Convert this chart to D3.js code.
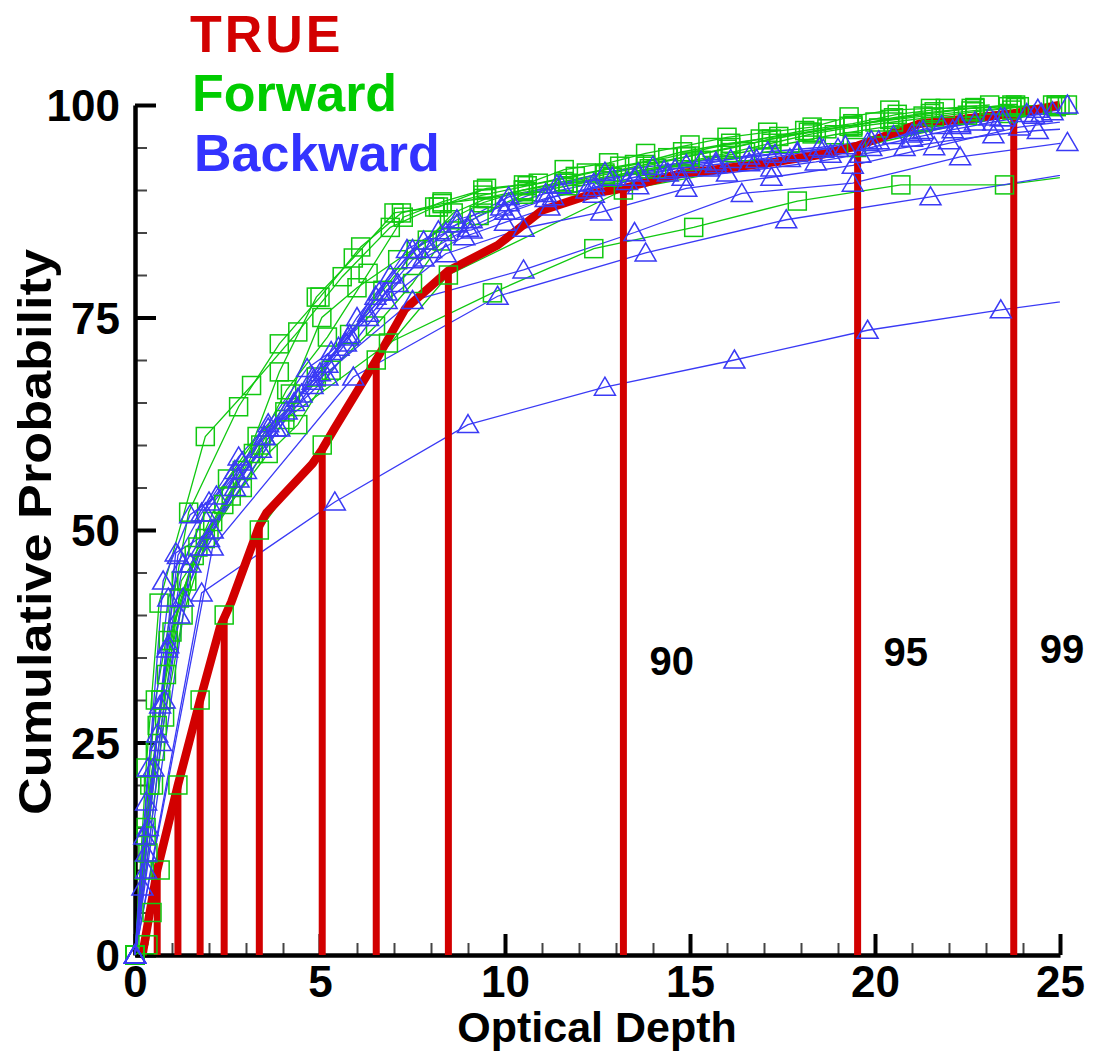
<!DOCTYPE html>
<html><head><meta charset="utf-8">
<script src="https://cdn.jsdelivr.net/npm/d3@7"></script>
<style>body{margin:0;background:#fff}svg{display:block}</style>
</head><body>
<svg id="chart" width="1093" height="1056"></svg>
<script>
// ---------- data ----------
const xTickValues = [0, 5, 10, 15, 20, 25];
const yTickValues = [0, 25, 50, 75, 100];
const xMinorTicks = [1,2,3,4,6,7,8,9,11,12,13,14,16,17,18,19,21,22,23,24];
const yMinorTicks = [5,10,15,20,30,35,40,45,55,60,65,70,80,85,90,95];
const legendLabels = ["TRUE", "Forward", "Backward"];
const xTitle = "Optical Depth";
const yTitle = "Cumulative Probability";

// TRUE cumulative distribution [optical depth, cumulative %]
const trueCurve = [[0.2,0],[0.6,10],[1.16,20],[1.76,30],[2.3,38.6],[2.6,41.5],[3.36,50.5],[3.55,52],
  [4.8,57.8],[5.06,59.5],[5.4,62],[6.52,70],[7.3,76],[8.47,80.5],[9.8,83.5],[11.0,87.6],[12.4,89.6],
  [13.2,90.2],[14.8,92],[15.5,92.3],[17.3,93.3],[18.6,94.2],[19.53,95.2],[21.2,97.8],[23.75,99],[25,100]];
// quantile drop lines of the TRUE curve
const quantileLevels = [10, 20, 30, 40, 50, 60, 70, 80, 90, 95, 99];
const quantileDepths = [0.6, 1.16, 1.76, 2.41, 3.36, 5.06, 6.52, 8.47, 13.2, 19.53, 23.75];
const labeledQuantiles = [90, 95, 99];

// Forward retrievals
const forwardRuns = [
  [[0,0],[0.35,1.2],[0.46,5],[0.68,10],[1.16,20],[1.76,30],[2.41,40],[3.36,50],[5.06,60],[6.52,70],[8.47,80],[13.2,90],[19.5,95],[23.6,99],[25,100]],
  [[0,0],[0.5,20],[1.25,44],[4.05,63],[6.85,72],[9.66,77.9],[12.4,83.1],[15.1,85.6],[17.9,88.7],[20.7,90.6],[23.5,90.6],[26.3,92.2]],
  [[0,0],[0.3,22],[0.65,41.4],[1.9,61],[3.15,67],[4.4,73.3],[5.6,79.8],[6.9,85.6],[8.1,88],[9.4,89.4],[10.6,90.5],[11.9,91.6],[13.1,92.8],[14.4,93.8],[15.6,95],[16.9,96],[18.1,97],[19.4,97.8],[20.6,98.9],[21.9,99.6],[23.1,100]],
  [[0,0],[0.55,30],[1.45,52.1],[2.8,64.5],[3.9,71.9],[5.0,77.4],[6.1,83.3],[7.2,87.3],[8.3,88.4],[9.4,89],[10.5,90],[11.6,90.8],[12.7,91.8],[13.8,92.8],[14.9,93.9],[16.0,94.8],[17.1,95.9],[18.2,96.8],[19.3,97.5],[20.4,98.3],[21.5,99],[22.6,99.6],[23.7,100]],
  [[0,0],[0.3,15],[0.6,27],[1.0,38],[1.7,48],[2.5,56],[3.3,61],[4.05,63.9],[4.9,68],[5.8,73],[6.7,78.2],[7.6,83],[8.5,86.5],[9.4,88.5],[10.5,90],[11.6,91],[12.7,92],[13.8,93],[15.0,94],[16.1,95],[17.2,96],[18.3,96.8],[19.4,97.6],[20.5,98.5],[21.6,99.2],[22.7,99.7],[23.8,100]],
  [[0,0],[0.25,10],[0.55,24],[0.9,37],[1.6,47],[2.4,53],[3.2,59],[4.1,66.5],[5.2,72.7],[6.3,80.2],[7.25,86.8],[8.3,88.6],[9.4,90],[10.5,90.6],[11.6,92.4],[12.8,93.2],[13.8,94.3],[15.0,95.3],[16.0,96.2],[17.1,96.8],[18.3,97.4],[19.3,98.6],[20.4,99.4],[21.5,99.6],[22.7,99.6],[23.6,99.8],[24.8,100]],
  [[0,0],[0.35,12],[0.8,28],[1.3,40],[2.0,50],[2.9,55],[3.6,59],[4.4,62.4],[5.3,68.8],[6.5,74],[7.5,79],[8.3,84],[9.3,87],[10.5,89.5],[11.7,90.5],[12.9,91.5],[14.1,92.5],[15.3,93.5],[16.5,94.5],[17.7,95.5],[18.9,96.5],[20.1,97.3],[21.3,98],[22.5,98.8],[23.7,99.4],[24.9,99.8]],
  [[0,0],[0.4,20],[0.85,33],[1.4,44],[2.1,51],[2.9,57],[3.9,68.6],[4.9,77.4],[5.9,82],[7.0,87.3],[8.2,88],[9.5,90.2],[10.9,90.8],[12.2,92],[13.5,93],[14.8,94.5],[16.1,95.5],[17.4,96.3],[18.7,97.2],[20.0,98],[21.3,98.7],[22.6,99.3],[23.9,99.8],[25.2,100]],
  [[0,0],[0.3,14],[0.7,30],[1.2,42],[1.9,49],[2.6,54],[3.4,60],[4.2,66],[5.05,75],[6.0,78.5],[7.1,81.8],[7.9,84.1],[8.6,87.3],[9.5,89],[10.6,89.8],[11.7,90.8],[12.8,91.6],[13.9,92.5],[15.0,93.4],[16.1,94.4],[17.2,95.5],[18.3,96.6],[19.4,97.4],[20.5,98],[21.6,98.6],[22.7,99.2],[23.8,99.7],[24.9,100]]
];

// Backward retrievals
const backwardRuns = [
  [[0,0],[1.8,42.6],[5.4,53.3],[9.0,62.4],[12.7,66.8],[16.2,70],[19.8,73.5],[23.4,75.9],[27,78]],
  [[0,0],[2.1,48],[5.9,68],[9.8,77.5],[13.8,82.6],[17.6,86.5],[21.5,89.2],[25.4,92]],
  [[0,0],[1.5,46],[4.5,66],[7.5,77],[10.5,80.6],[13.5,85],[16.4,89.6],[19.4,90.8],[22.3,93.9],[25.2,95.6]],
  [[0,0],[0.35,22],[0.9,42],[1.9,52],[3.5,61],[5.2,68],[6.8,77],[8.4,82.5],[10.5,85.5],[12.6,87.4],[14.9,90.2],[17.2,91.5],[19.4,92.9],[21.6,95.1],[23.9,97.4],[26,98.5]],
  [[0,0],[0.25,14],[0.6,26],[0.87,36],[1.16,47],[1.8,52],[2.7,57],[3.5,61],[4.4,65.5],[5.2,69.5],[6.0,75],[6.9,80],[7.8,84],[8.7,86.5],[9.9,88],[11.1,89.6],[12.4,90.8],[13.6,92],[14.9,93],[16.1,93.6],[17.3,94.2],[18.6,94.8],[19.8,95.6],[21.0,96.6],[22.3,97.6],[23.5,98.5],[24.8,99.2]],
  [[0,0],[0.3,18],[0.76,44],[1.49,51.8],[2.2,54],[2.9,58],[3.6,62],[4.3,65],[5.0,68.5],[5.76,72.7],[6.5,77.5],[7.35,83],[8.2,85.2],[9.1,86.5],[10.1,88.5],[11.4,90.6],[12.7,92.1],[14.0,92.8],[15.3,93.4],[16.6,94],[17.9,94.5],[19.2,95.2],[20.5,96.4],[21.8,97.6],[23.1,98.6],[24.4,99.5],[25.2,100]],
  [[0,0],[0.2,8],[0.5,22],[0.9,36.5],[1.3,46],[2.0,53.3],[2.8,58.6],[3.6,62.5],[4.65,69],[5.3,71],[6.3,75.5],[7.5,81.8],[8.7,86],[10.1,89.2],[11.5,90.6],[12.9,91.5],[14.3,92.3],[15.7,93.3],[17.1,94.5],[18.5,95],[19.9,95.8],[21.3,97],[22.7,98],[24.1,99],[25.5,99.6]],
  [[0,0],[0.3,12],[0.68,29.4],[1.1,47.3],[2.1,50],[3.0,57],[3.9,62],[4.8,67],[5.7,72],[6.6,78],[7.5,83],[8.4,85],[9.1,85.3],[10.2,87.5],[11.3,89.2],[12.4,90.3],[13.5,91.5],[14.6,92.5],[15.7,93],[16.8,93.6],[17.9,94.3],[19.0,94.9],[20.1,95.8],[21.2,96.8],[22.3,97.8],[23.4,98.5],[24.5,99]],
  [[0,0],[0.35,15],[0.8,30],[1.3,42],[2.0,49],[2.7,55],[3.4,59.5],[4.1,64],[4.8,67.5],[5.5,71.5],[6.3,75],[7.1,79],[8.0,83],[9.0,85.5],[10.0,87.5],[11.1,89],[12.2,90],[13.3,91],[14.4,92],[15.5,92.6],[16.6,93.2],[17.7,93.7],[18.8,94.2],[19.9,95],[21.0,96.1],[22.1,97.1],[23.2,98],[24.3,98.8],[25.4,99.3]],
  [[0,0],[0.3,10],[0.7,25],[1.2,40],[1.8,48],[2.8,56],[3.8,62],[4.8,68],[5.8,73],[6.8,78],[7.8,82],[8.9,84.5],[10.0,86.2],[11.2,88],[12.4,89.5],[13.6,90.5],[14.8,91.5],[16.0,92],[17.2,92.6],[18.4,93.3],[19.6,94.2],[20.8,95],[22.0,95.8],[23.2,96.5],[24.4,97],[25.6,97.3]]
];

// ---------- styling ----------
const RED = "#d20000", GREEN = "#00cc00", BLUE = "#3333ff";
const LINE_GREEN = "#10c810", LINE_BLUE = "#3a3af5";
const FONT = "'Liberation Sans', Arial, Helvetica, sans-serif";

const svg = d3.select("#chart");
const x = d3.scaleLinear().domain([0, 25]).range([135, 1060]);
const y = d3.scaleLinear().domain([0, 100]).range([955, 105]);

svg.append("defs").append("clipPath").attr("id", "plotClip")
  .append("rect").attr("x", x(0) - 2).attr("y", y(100) - 20)
  .attr("width", x(25) - x(0) + 2).attr("height", y(0) - y(100) + 40);

// ---------- axes ----------
const axisG = svg.append("g");
axisG.append("g").attr("transform", `translate(0,${y(0)})`)
  .call(d3.axisBottom(x).tickValues(xMinorTicks).tickSize(-12).tickFormat("").tickSizeOuter(0))
  .call(g => g.select(".domain").remove())
  .call(g => g.selectAll(".tick line").attr("stroke", "#444").attr("stroke-width", 2));
axisG.append("g").attr("transform", `translate(${x(0)},0)`)
  .call(d3.axisLeft(y).tickValues(yMinorTicks).tickSize(-12).tickFormat("").tickSizeOuter(0))
  .call(g => g.select(".domain").remove())
  .call(g => g.selectAll(".tick line").attr("stroke", "#444").attr("stroke-width", 2));
const xAxis = axisG.append("g").attr("transform", `translate(0,${y(0)})`)
  .call(d3.axisBottom(x).tickValues(xTickValues).tickSize(-21).tickSizeOuter(0).tickPadding(0).tickFormat(d3.format("d")));
xAxis.select(".domain").attr("stroke", "#000").attr("stroke-width", 4.5);
xAxis.selectAll(".tick line").attr("stroke", "#000").attr("stroke-width", 4);
xAxis.selectAll(".tick text").attr("y", 42).attr("dy", 0)
  .attr("font-family", FONT).attr("font-weight", "bold").attr("font-size", 44).attr("fill", "#000");

const yAxis = axisG.append("g").attr("transform", `translate(${x(0)},0)`)
  .call(d3.axisLeft(y).tickValues(yTickValues).tickSize(-21).tickSizeOuter(0).tickPadding(15).tickFormat(d3.format("d")));
yAxis.select(".domain").attr("stroke", "#000").attr("stroke-width", 4.5);
yAxis.selectAll(".tick line").attr("stroke", "#000").attr("stroke-width", 4);
yAxis.selectAll(".tick text").attr("dy", "0.36em")
  .attr("font-family", FONT).attr("font-weight", "bold").attr("font-size", 44).attr("fill", "#000");

svg.append("text").attr("x", 597).attr("y", 1042)
  .attr("text-anchor", "middle").attr("font-family", FONT).attr("font-weight", "bold")
  .attr("font-size", 43).attr("fill", "#000").text(xTitle);
svg.append("text").attr("transform", `translate(51,${(y(0) + y(100)) / 2 + 2}) rotate(-90)`)
  .attr("text-anchor", "middle").attr("font-family", FONT).attr("font-weight", "bold")
  .attr("font-size", 46).attr("fill", "#000")
  .attr("textLength", 566).attr("lengthAdjust", "spacingAndGlyphs").text(yTitle);

// ---------- runs: lines ----------
const line = d3.line().x(d => x(d[0])).y(d => y(d[1]));
const linesG = svg.append("g").attr("clip-path", "url(#plotClip)");
linesG.selectAll("path.fwd").data(forwardRuns).join("path").attr("class", "fwd")
  .attr("d", line).attr("fill", "none").attr("stroke", LINE_GREEN).attr("stroke-width", 1.3);
linesG.selectAll("path.bwd").data(backwardRuns).join("path").attr("class", "bwd")
  .attr("d", line).attr("fill", "none").attr("stroke", LINE_BLUE).attr("stroke-width", 1.3);

// ---------- TRUE curve and quantile drop lines ----------
function trueAt(depth) {
  for (let i = 1; i < trueCurve.length; i++) {
    const a = trueCurve[i - 1], b = trueCurve[i];
    if (depth <= b[0]) return a[1] + (b[1] - a[1]) * (depth - a[0]) / (b[0] - a[0]);
  }
  return trueCurve[trueCurve.length - 1][1];
}
const redG = svg.append("g");
redG.selectAll("line.q").data(quantileDepths).join("line").attr("class", "q")
  .attr("x1", d => x(d)).attr("x2", d => x(d))
  .attr("y1", y(0)).attr("y2", d => y(trueAt(d)))
  .attr("stroke", RED).attr("stroke-width", 7);
redG.append("path").datum(trueCurve).attr("d", line)
  .attr("fill", "none").attr("stroke", RED).attr("stroke-width", 8.5)
  .attr("stroke-linejoin", "round").attr("stroke-linecap", "butt");

const labelLift = { 90: 34.6, 95: 35.7, 99: 36.0 };
svg.selectAll("text.qlab").data(labeledQuantiles).join("text").attr("class", "qlab")
  .attr("x", d => x(quantileDepths[quantileLevels.indexOf(d)]) + 26)
  .attr("y", d => y(labelLift[d]))
  .attr("dy", "0.36em")
  .attr("font-family", FONT).attr("font-weight", "bold").attr("font-size", 40).attr("fill", "#000")
  .text(d => d);

// ---------- markers ----------
const mk = svg.append("g");
const inRange = d => d[0] <= 25.3;
forwardRuns.forEach(run => {
  mk.append("g").selectAll("rect").data(run.filter(inRange)).join("rect")
    .attr("x", d => x(d[0]) - 9).attr("y", d => y(d[1]) - 9)
    .attr("width", 18).attr("height", 18)
    .attr("fill", "none").attr("stroke", LINE_GREEN).attr("stroke-width", 1.5);
});
const tri = "M0,-10 L10.5,8 L-10.5,8 Z";
backwardRuns.forEach(run => {
  mk.append("g").selectAll("path").data(run.filter(inRange)).join("path")
    .attr("transform", d => `translate(${x(d[0])},${y(d[1])})`)
    .attr("d", tri)
    .attr("fill", "none").attr("stroke", LINE_BLUE).attr("stroke-width", 1.5);
});

// ---------- legend ----------
const legendColors = [RED, GREEN, BLUE];
const legendBaselines = [52, 111, 171];
svg.selectAll("text.leg").data(legendLabels).join("text").attr("class", "leg")
  .attr("x", (d, i) => 190 + i * 2).attr("y", (d, i) => legendBaselines[i])
  .attr("font-family", FONT).attr("font-weight", "bold").attr("font-size", 52)
  .attr("letter-spacing", (d, i) => i === 0 ? 3 : 0)
  .attr("fill", (d, i) => legendColors[i]).text(d => d);
</script>
</body></html>
